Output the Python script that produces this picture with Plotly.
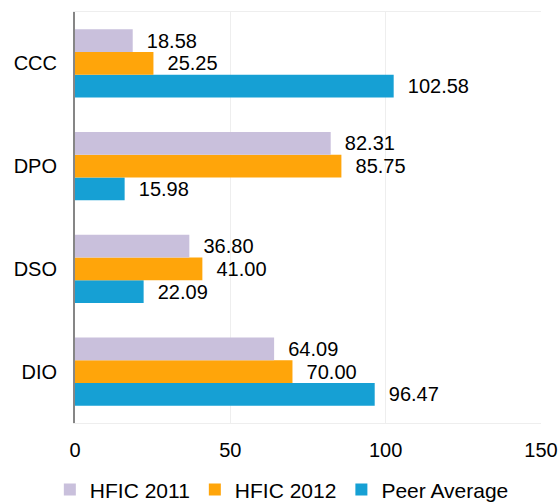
import plotly.graph_objects as go

categories = ["DIO", "DSO", "DPO", "CCC"]
hfic_2011 = [64.09, 36.80, 82.31, 18.58]
hfic_2012 = [70.00, 41.00, 85.75, 25.25]
peer_avg = [96.47, 22.09, 15.98, 102.58]
x_ticks = [0, 50, 100, 150]

FONT = "Liberation Sans, Arial, sans-serif"
FS = 20

series = [
    ("Peer Average", peer_avg, "#16A0D4", 3),
    ("HFIC 2012", hfic_2012, "#FFA50A", 2),
    ("HFIC 2011", hfic_2011, "#C9C0DC", 1),
]

fig = go.Figure()
for name, vals, color, rank in series:
    fig.add_trace(go.Bar(
        y=categories, x=vals, name=name, orientation="h",
        marker=dict(color=color, line=dict(width=0)),
        text=vals, texttemplate="\u00a0\u00a0%{x:.2f}",
        textposition="outside", constraintext="none", cliponaxis=False,
        textfont=dict(family=FONT, size=FS, color="#000000"),
        legendrank=rank,
    ))

fig.update_layout(
    width=558, height=502,
    margin=dict(l=75, r=17, t=12, b=79, autoexpand=False),
    barmode="group", bargap=0.338, bargroupgap=0,
    plot_bgcolor="white", paper_bgcolor="white",
    font=dict(family=FONT, size=FS, color="#000000"),
    showlegend=True,
    legend=dict(orientation="h", x=-0.054, xanchor="left", y=-0.113, yanchor="top",
                font=dict(family=FONT, size=21, color="#000000"),
                itemwidth=30, traceorder="normal",
                bgcolor="rgba(0,0,0,0)"),
)
fig.update_xaxes(range=[0, 150], tickvals=x_ticks, showgrid=True, gridcolor="#EEEEEE",
                 gridwidth=1, zeroline=False, showline=True, linecolor="#EEEEEE",
                 linewidth=1, mirror=True, ticks="outside", ticklen=9, tickcolor="rgba(0,0,0,0)",
                 tickfont=dict(family=FONT, size=FS, color="#000000"), fixedrange=True)
fig.update_yaxes(categoryorder="array", categoryarray=categories, showgrid=False,
                 zeroline=False, showline=True, linecolor="#868686", linewidth=2,
                 ticks="outside", ticklen=12, tickcolor="rgba(0,0,0,0)",
                 tickfont=dict(family=FONT, size=FS, color="#000000"), fixedrange=True)

fig.write_html("out.html", config={"displayModeBar": False},
               post_script="document.body.style.margin='0px';document.body.style.overflow='hidden';")
